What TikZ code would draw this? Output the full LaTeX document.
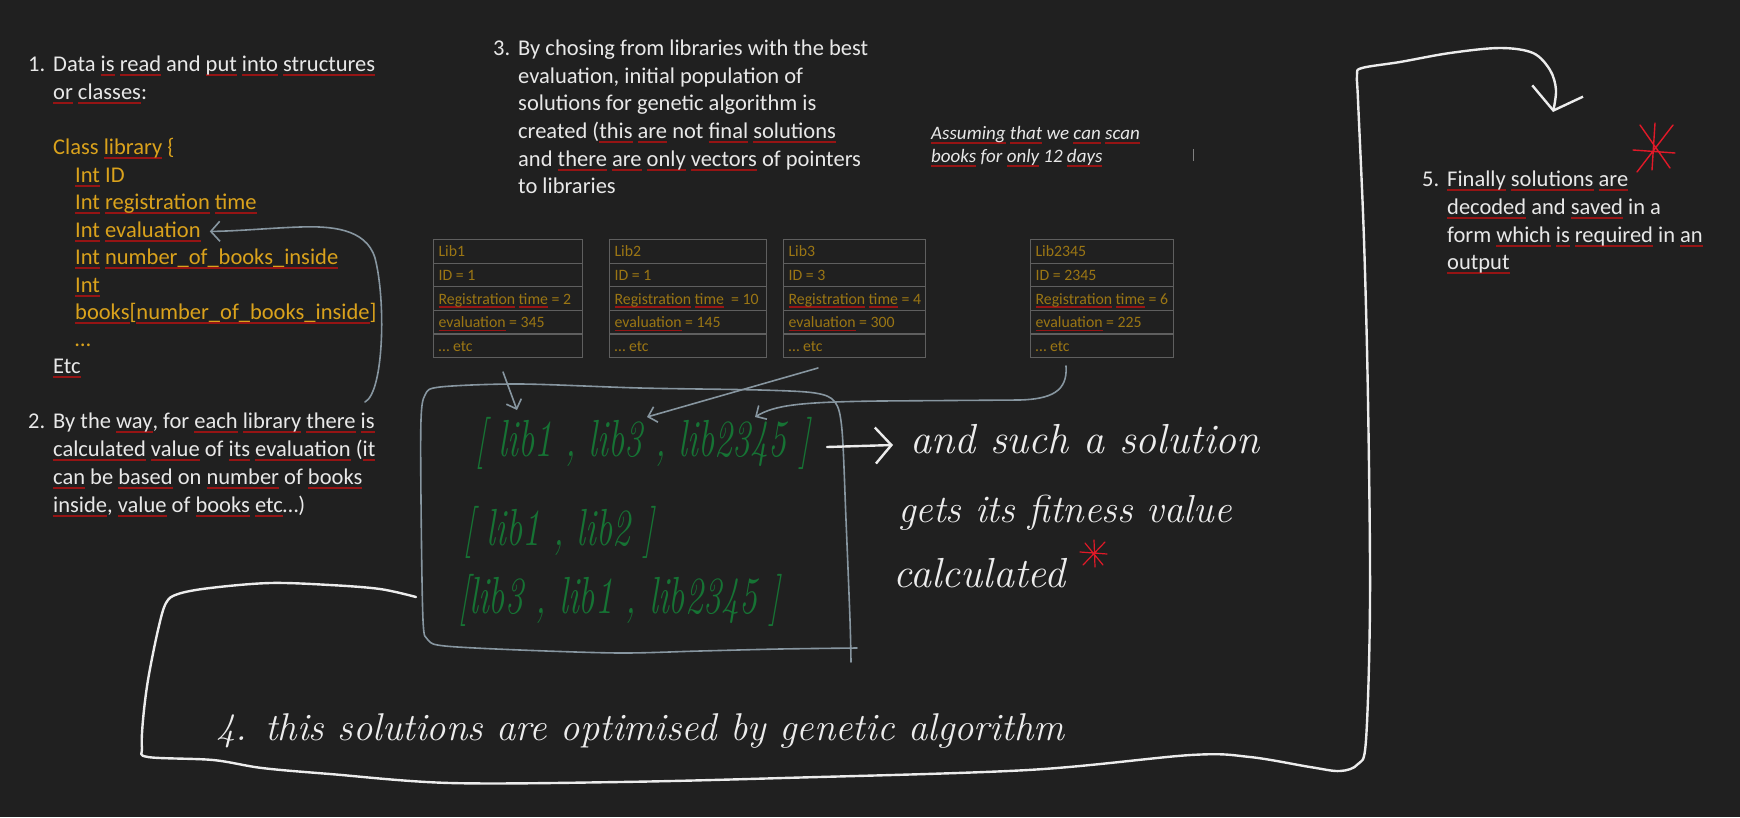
\documentclass[tikz,border=0pt]{standalone}
\usepackage{fontspec}
\setmainfont{Carlito}
\newfontfamily\handfont{Latin Modern Roman}
\usetikzlibrary{arrows.meta}
\definecolor{bgc}{RGB}{32,32,32}
\definecolor{wtext}{RGB}{232,232,232}
\definecolor{gold}{RGB}{218,162,28}
\definecolor{tgold}{RGB}{155,118,20}
\definecolor{tborder}{RGB}{95,95,95}
\definecolor{hgreen}{RGB}{22,115,52}
\definecolor{gline}{RGB}{135,150,160}
\definecolor{hwhite}{RGB}{236,236,236}
\definecolor{starred}{RGB}{225,25,40}
\definecolor{sqred}{RGB}{150,20,20}
\newsavebox\sqbox
\newcommand\sq[1]{\sbox\sqbox{#1}\rlap{\textcolor{sqred}{\rule[-4.5pt]{\wd\sqbox}{1.8pt}}}\usebox\sqbox}
\newcommand\tsq[1]{\sbox\sqbox{#1}\rlap{\textcolor{sqred}{\rule[-3.5pt]{\wd\sqbox}{1.6pt}}}\usebox\sqbox}
\newcommand\rowbox[2]{\makebox[#1pt][l]{#2}}
\begin{document}
\begin{tikzpicture}[x=1pt,y=-1pt,
  txt/.style={anchor=base west, inner sep=0pt, text=wtext, font=\fontsize{22.5}{27.6}\selectfont},
  code/.style={txt, text=gold},
  note/.style={anchor=base west, inner sep=0pt, text=wtext, font=\fontsize{19}{23}\selectfont\itshape},
  cell/.style={draw=tborder, line width=1.2pt, anchor=north west, minimum height=23.6pt,
     inner xsep=5pt, inner ysep=0pt, text height=13.5pt, text depth=2.5pt,
     text=tgold, font=\fontsize{15.8}{18}\selectfont},
  hand/.style={anchor=base west, inner sep=0pt, text=hwhite, font=\handfont\itshape\fontsize{42}{44}\selectfont},
  vec/.style={anchor=west, inner sep=0pt, text=hgreen, font=\handfont\itshape\fontsize{36}{38}\selectfont},
  gconn/.style={draw=gline, line width=1.6pt, line cap=round, line join=round},
  wconn/.style={draw=hwhite, line width=2.4pt, line cap=round, line join=round},
  star/.style={draw=starred, line width=1.4pt, line cap=round}]
\fill[bgc] (0,0) rectangle (1740,817);
\useasboundingbox (0,0) rectangle (1740,817);

% Block 1
\node[txt] (n1) at (28,71) {1.};
\node[txt] (b1a) at (53,71) {Data \sq{is} \sq{read} and \sq{put} \sq{into} \sq{structures}};
\node[txt] (b1b) at (53,99) {\sq{or} \sq{classes}:};
\node[code] (c0) at (53,154) {Class \sq{library} \{};
\node[code] (c1) at (75,182) {\sq{Int} ID};
\node[code] (c2) at (75,209) {\sq{Int} \sq{registration} \sq{time}};
\node[code] (c3) at (75,237) {\sq{Int} \sq{evaluation}};
\node[code] (c4) at (75,264) {\sq{Int} \sq{number\_of\_books\_inside}};
\node[code] (c5) at (75,292) {\sq{Int}};
\node[code] (c6) at (75,319) {\sq{books}[\sq{number\_of\_books\_inside}]};
\node[code] (c7) at (75,346) {…};
\node[txt] (c8) at (53,373) {\sq{Etc}};

% Block 2
\node[txt] (n2) at (28,428) {2.};
\node[txt] (b2a) at (53,428) {By the \sq{way}, for \sq{each} \sq{library} \sq{there} \sq{is}};
\node[txt] (b2b) at (53,456) {\sq{calculated} \sq{value} of \sq{its} \sq{evaluation} (\sq{it}};
\node[txt] (b2c) at (53,484) {\sq{can} be \sq{based} on \sq{number} of \sq{books}};
\node[txt] (b2d) at (53,512) {\sq{inside}, \sq{value} of \sq{books} \sq{etc}…)};

% Block 3
\node[txt] (n3) at (493,55) {3.};
\node[txt] (b3a) at (518,55) {By chosing from libraries with the best};
\node[txt] (b3b) at (518,83) {evaluation, initial population of};
\node[txt] (b3c) at (518,110) {solutions for genetic algorithm is};
\node[txt] (b3d) at (518,138) {created (\sq{this} \sq{are} not \sq{final} \sq{solutions}};
\node[txt] (b3e) at (518,166) {and \sq{there} \sq{are} \sq{only} \sq{vectors} of pointers};
\node[txt] (b3f) at (518,193) {to libraries};

% Note
\node[note] (na) at (931,139) {\sq{Assuming} \sq{that} we \sq{can} \sq{scan}};
\node[note] (nb) at (931,162) {\sq{books} for \sq{only} 12 \sq{days}};
\draw[draw=gray, line width=1pt] (1193,149) -- (1193,161);

% Block 5
\node[txt] (n5) at (1422,186) {5.};
\node[txt] (b5a) at (1447,186) {\sq{Finally} \sq{solutions} \sq{are}};
\node[txt] (b5b) at (1447,214) {\sq{decoded} and \sq{saved} in a};
\node[txt] (b5c) at (1447,242) {form \sq{which} \sq{is} \sq{required} in \sq{an}};
\node[txt] (b5d) at (1447,269) {\sq{output}};

% Table Lib1
\node[cell] (t1-1) at (433,239)   {\rowbox{139}{Lib1}};
\node[cell] (t1-2) at (433,262.6) {\rowbox{139}{ID = 1}};
\node[cell] (t1-3) at (433,286.2) {\rowbox{139}{\tsq{Registration} \tsq{time} = 2}};
\node[cell] (t1-4) at (433,309.8) {\rowbox{139}{\tsq{evaluation} = 345}};
\node[cell] (t1-5) at (433,333.4) {\rowbox{139}{… etc}};
% Table Lib2
\node[cell] (t2-1) at (609,239)   {\rowbox{147}{Lib2}};
\node[cell] (t2-2) at (609,262.6) {\rowbox{147}{ID = 1}};
\node[cell] (t2-3) at (609,286.2) {\rowbox{147}{\tsq{Registration} \tsq{time} \ = 10}};
\node[cell] (t2-4) at (609,309.8) {\rowbox{147}{\tsq{evaluation} = 145}};
\node[cell] (t2-5) at (609,333.4) {\rowbox{147}{… etc}};
% Table Lib3
\node[cell] (t3-1) at (783,239)   {\rowbox{132}{Lib3}};
\node[cell] (t3-2) at (783,262.6) {\rowbox{132}{ID = 3}};
\node[cell] (t3-3) at (783,286.2) {\rowbox{132}{\tsq{Registration} \tsq{time} = 4}};
\node[cell] (t3-4) at (783,309.8) {\rowbox{132}{\tsq{evaluation} = 300}};
\node[cell] (t3-5) at (783,333.4) {\rowbox{132}{… etc}};
% Table Lib2345
\node[cell] (t4-1) at (1030,239)   {\rowbox{133}{Lib2345}};
\node[cell] (t4-2) at (1030,262.6) {\rowbox{133}{ID = 2345}};
\node[cell] (t4-3) at (1030,286.2) {\rowbox{133}{\tsq{Registration} \tsq{time} = 6}};
\node[cell] (t4-4) at (1030,309.8) {\rowbox{133}{\tsq{evaluation} = 225}};
\node[cell] (t4-5) at (1030,333.4) {\rowbox{133}{… etc}};

% Vectors (handwritten, green)
\node[vec] (v1) at (475,443) {\scalebox{1}[1.45]{[ lib1 , lib3 , lib2345 ]}};
\node[vec] (v2) at (463,532) {\scalebox{1}[1.45]{[ lib1 , lib2 ]}};
\node[vec] (v3) at (458,600) {\scalebox{1}[1.45]{[lib3 , lib1 , lib2345 ]}};

% gray box around vectors
\draw[gconn] plot[smooth, tension=0.5] coordinates {(857,648) (780,649) (700,651) (620,653) (520,650) (445,646) (428,640) (423,620) (421,500) (421,420) (425,395) (440,387) (520,384) (640,388) (760,390) (815,393) (835,402) (842,430) (846,520) (850,620) (851,662)};

% Handwritten notes
\node[hand] (h1) at (910,453) {and such a solution};
\node[hand, font=\handfont\itshape\fontsize{39}{44}\selectfont] (h2) at (898,522) {gets its fitness value};
\node[hand] (h3) at (893,587) {calculated};
\node[hand, font=\handfont\itshape\fontsize{38.7}{42}\selectfont] (h4) at (216,740) {4. this solutions are optimised by genetic algorithm};

% red asterisks
\draw[star] (1633,150) -- (1675,153) (1637,172) -- (1673,125) (1655,123) -- (1652,170) (1640,125) -- (1670,168);
\draw[star, line width=1.2pt] (1080,552) -- (1107,554) (1083,565) -- (1105,542) (1094,540) -- (1095,567) (1085,543) -- (1103,565);

% connectors
\coordinate (ev0) at (365,402);
\draw[gconn, -{Straight Barb[length=9pt,width=20pt]}] (ev0) .. controls (384,392) and (386,300) .. (375,258) .. controls (366,228) and (330,226) .. (300,227) .. controls (270,228) and (240,231) .. ([xshift=9pt]c3.east);

\coordinate (l1s) at (503,372);
\coordinate (l1e) at (517,410);
\draw[gconn, -{Straight Barb[length=8pt,width=16pt]}] (l1s) -- (l1e);

\coordinate (l3s) at (818,368);
\coordinate (l3e) at (647,417);
\draw[gconn, -{Straight Barb[length=8pt,width=16pt]}] (l3s) -- (l3e);

\coordinate (l4s) at (1066,366);
\coordinate (l4e) at (755,417);
\draw[gconn, -{Straight Barb[length=8pt,width=16pt]}] (l4s) .. controls (1068,392) and (1050,399) .. (1020,400) -- (880,401) .. controls (800,402) and (775,405) .. (l4e);

\coordinate (ws) at (827,447);
\coordinate (we) at (893,445);
\draw[wconn, -{Straight Barb[length=16pt,width=36pt]}] (ws) -- (we);

% big loop
\draw[wconn, -{Straight Barb[length=20pt,width=52pt]}] plot[smooth, tension=0.55] coordinates {(416,597) (380,589) (330,585) (270,583) (210,588) (178,594) (166,603) (158,630) (148,680) (143,720) (142,748) (148,757) (213,760) (262,768) (330,774) (450,783) (620,782) (783,778) (1028,770) (1191,755) (1250,757) (1310,767) (1340,771) (1358,764) (1366,740) (1370,600) (1368,400) (1364,240) (1358,100) (1357,75) (1362,68) (1400,62) (1450,53) (1500,48) (1533,53) (1550,70) (1556,90) (1553,112)};
\end{tikzpicture}
\end{document}
